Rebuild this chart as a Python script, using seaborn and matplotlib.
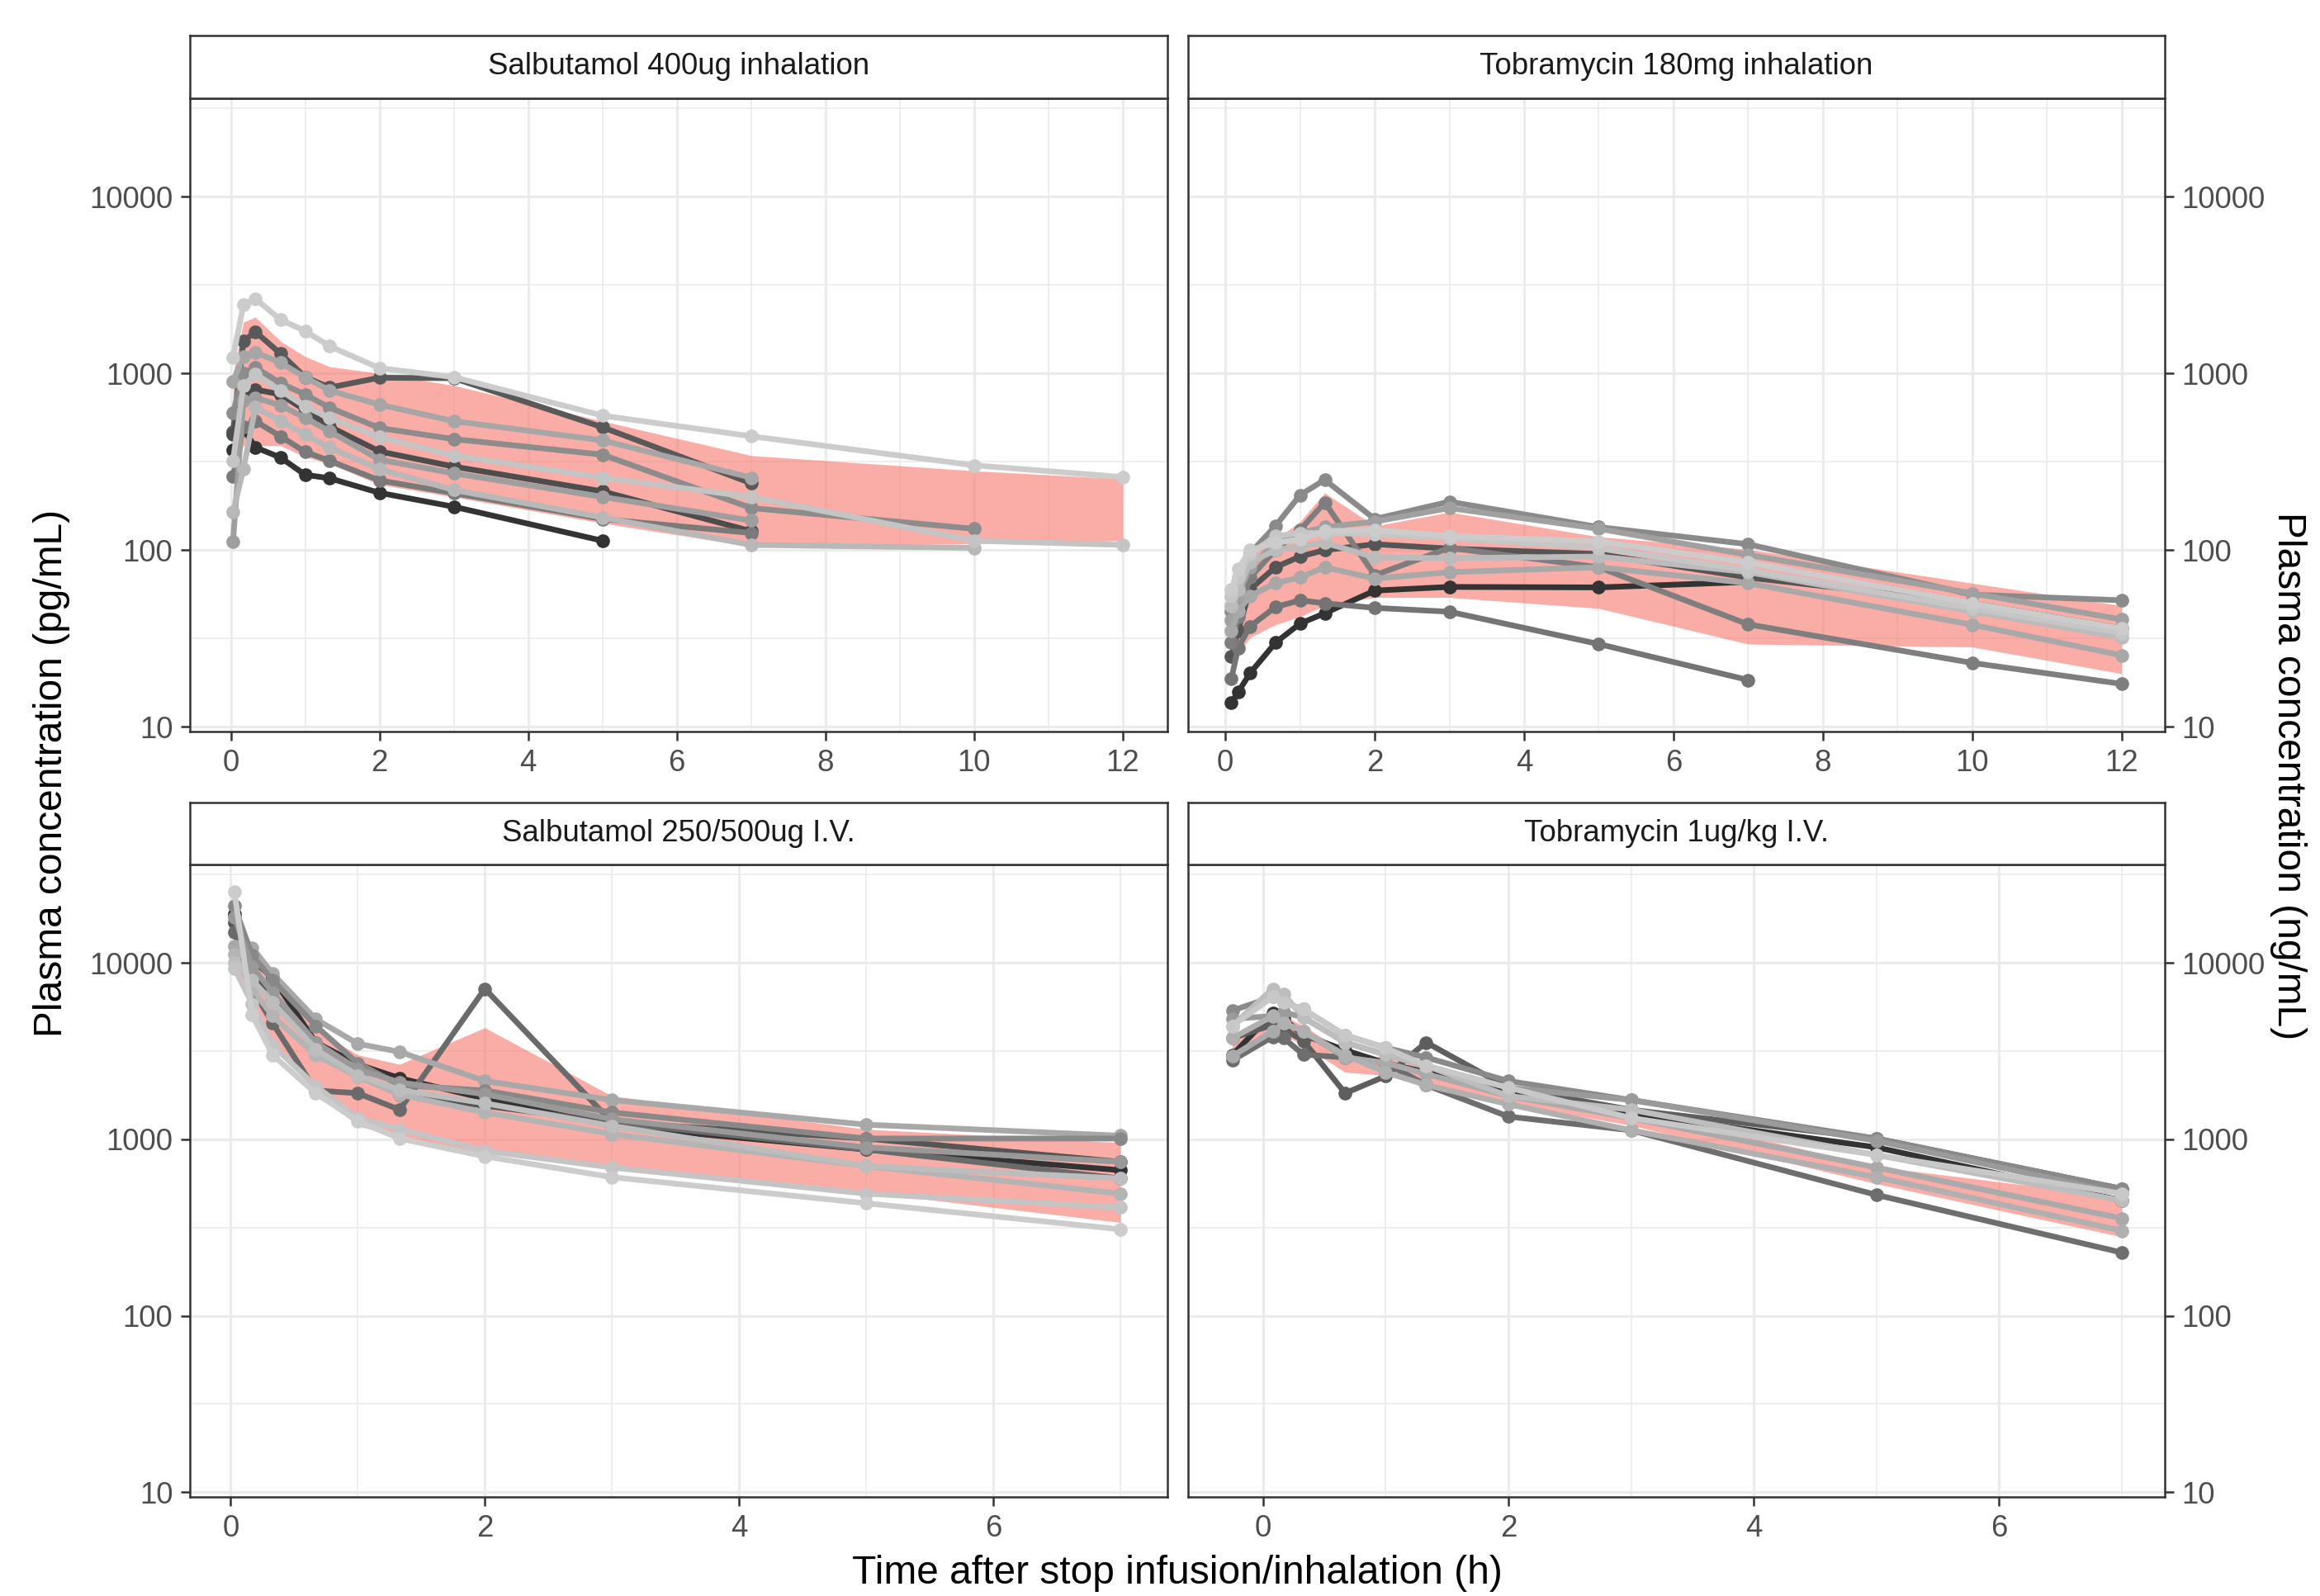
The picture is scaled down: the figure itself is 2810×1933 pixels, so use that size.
import numpy as np
import pandas as pd
import matplotlib
matplotlib.use("Agg")
import matplotlib.pyplot as plt
from matplotlib.ticker import FixedLocator, NullFormatter
import seaborn as sns

plt.rcParams['font.family'] = ['Liberation Sans', 'DejaVu Sans']

# ---------------- data ----------------
panel_titles = ["Salbutamol 400ug inhalation", "Tobramycin 180mg inhalation",
                "Salbutamol 250/500ug I.V.", "Tobramycin 1ug/kg I.V."]

# Salbutamol inhalation
t_si = [0.03, 0.17, 0.33, 0.67, 1, 1.33, 2, 3, 5, 7, 10, 12]
si_subjects = {
    "s01": [370, 485, 382, 334, 267, 255, 211, 176, 113],
    "s02": [465, 1520, 1722, 1293, 953, 832, 946, 940, 496, 239],
    "s03": [450, 780, 811, 760, 620, 500, 362, 297, 215, 128],
    "s04": [260, 500, 537, 440, 360, 320, 248, 210, 150, 125],
    "s05": [600, 1000, 1081, 880, 760, 640, 491, 425, 347, 173, 132],
    "s06": [112, 700, 728, 660, 560, 470, 325, 272, 200, 147],
    "s07": [900, 1250, 1316, 1150, 950, 800, 666, 537, 418, 257],
    "s08": [164, 287, 642, 540, 450, 380, 287, 219, 153, 107, 103],
    "s09": [320, 850, 988, 800, 650, 560, 436, 343, 257, 200, 113, 107],
    "s10": [1234, 2442, 2650, 2011, 1740, 1425, 1072, 953, 577, 441, 302, 259],
}
si_colors = ["#333333", "#595959", "#4d4d4d", "#7a7a7a", "#8c8c8c",
             "#9e9e9e", "#a6a6a6", "#b8b8b8", "#c4c4c4", "#cccccc"]
rib_si_lo = [300, 390, 390, 390, 337, 308, 235, 200, 142, 105, 109, 113]
rib_si_hi = [1000, 1954, 2083, 1520, 1247, 1092, 1001, 855, 537, 343, 281, 253]

# Tobramycin inhalation
t_ti = [0.08, 0.17, 0.33, 0.67, 1, 1.33, 2, 3, 5, 7, 10, 12]
ti_subjects = {
    "s01": [13.7, 15.7, 20.1, 29.9, 38.4, 43.9, 59, 61.9, 61.5, 66],
    "s02": [25, 35, 60, 80, 92, 100, 108, 102, 95, 70, 50, 36],
    "s03": [18.7, 28, 37, 47.6, 52, 50, 47.1, 44.8, 29.4, 18.4],
    "s04": [45, 60, 95.9, 137, 205, 250, 150, 188, 135, 108, 56, 52],
    "s05": [30, 42, 70, 100, 130, 186, 72, 103, 80, 38, 23, 17.5],
    "s06": [40, 55, 80, 110, 125, 135, 145, 173, 132, 94, 57, 40.5],
    "s07": [35, 45, 55, 65, 70, 80, 69, 75, 80, 65, 37.8, 25.4],
    "s08": [48, 60, 85, 100, 105, 110, 91, 90, 92, 75, 45, 32],
    "s09": [55, 70, 95, 120, 125, 125, 123, 117, 103, 77, 46.8, 34],
    "s10": [60, 78, 100, 110, 115, 128, 130, 120, 112, 85, 50, 36],
}
ti_colors = ["#333333", "#555555", "#747474", "#8a8a8a", "#7e7e7e",
             "#a0a0a0", "#a8a8a8", "#bbbbbb", "#c6c6c6", "#cccccc"]
rib_ti_lo = [22, 26, 32, 37.8, 42, 48.5, 54, 54, 46.8, 29.4, 28.3, 20]
rib_ti_hi = [40, 60, 92, 115, 145, 211, 137, 164, 119, 101, 65, 48.5]

# Salbutamol I.V.
t_sv = [0.03, 0.17, 0.33, 0.67, 1, 1.33, 2, 3, 5, 7]
sv_subjects = {
    "s01": [19000, 10400, 8240, 3540, 2660, 2220, 1700, 1190, 875, 668],
    "s02": [17000, 8690, 6290, 3240, 2345, 1790, 1550, 1250, 1010, 745],
    "s03": [15000, 7130, 4560, 1890, 1825, 1470, 7130, 1250, 875, 600],
    "s04": [12400, 12200, 8690, 4800, 3480, 3130, 2140, 1670, 1210, 1048],
    "s05": [21000, 11000, 8000, 4390, 2700, 2030, 1890, 1420, 1010, 1010],
    "s06": [18200, 9500, 6800, 3540, 2500, 2100, 1800, 1300, 900, 745],
    "s07": [11200, 7130, 5000, 3000, 2270, 1790, 1420, 1070, 705, 492],
    "s08": [10000, 8000, 6000, 3240, 2300, 1900, 1600, 1190, 705, 600],
    "s09": [9300, 5860, 3420, 2000, 1320, 1140, 859, 692, 492, 411],
    "s10": [25200, 5070, 3010, 1825, 1270, 1010, 800, 610, 434, 309],
}
sv_colors = ["#333333", "#555555", "#6a6a6a", "#a8a8a8", "#888888",
             "#999999", "#b4b4b4", "#bdbdbd", "#c4c4c4", "#cccccc"]
rib_sv_lo = [9000, 6000, 3500, 1890, 1190, 1030, 828, 718, 501, 338]
rib_sv_hi = [18000, 12000, 8000, 4170, 3010, 2660, 4290, 1760, 1140, 957]

# Tobramycin I.V.
t_tv = [-0.25, 0.08, 0.17, 0.33, 0.67, 1, 1.33, 2, 3, 5, 7]
tv_subjects = {
    "s01": [3000, 5200, 4800, 3900, 3200, 2700, 2400, 1900, 1400, 900, 450],
    "s02": [3740, 4460, 4220, 3610, 1825, 2280, 3540, 1960, 1470, 1010, 524],
    "s03": [2800, 3810, 3740, 3020, 2910, 2710, 2030, 1345, 1125, 484, 228],
    "s04": [5360, 6410, 5970, 5450, 3880, 3300, 2910, 2140, 1670, 1010, 524],
    "s05": [4810, 5000, 5260, 4900, 3540, 3020, 2610, 1960, 1670, 980, 492],
    "s06": [2960, 4090, 4560, 4090, 2910, 2710, 2345, 1760, 1320, 692, 356],
    "s07": [3740, 4990, 4560, 4090, 3000, 2400, 2030, 1580, 1125, 610, 303],
    "s08": [4390, 7130, 6650, 4900, 3540, 3020, 2610, 1760, 1470, 815, 450],
    "s09": [4390, 6410, 5970, 5450, 3880, 3300, 2610, 1960, 1320, 815, 492],
}
tv_colors = ["#333333", "#5e5e5e", "#6e6e6e", "#8a8a8a", "#9a9a9a",
             "#aaaaaa", "#b0b0b0", "#bdbdbd", "#c8c8c8"]
rib_tv_lo = [2900, 3800, 3900, 3400, 2400, 2300, 2000, 1600, 1200, 560, 280]
rib_tv_hi = [3700, 5000, 5000, 4400, 3100, 2900, 2600, 1900, 1500, 700, 470]

y_ticks = [10, 100, 1000, 10000]
y_labels = ["10", "100", "1000", "10000"]
x_ticks_top = [0, 2, 4, 6, 8, 10, 12]
x_ticks_bottom = [0, 2, 4, 6]

# ---------------- figure ----------------
W, H = 2811, 1933
fig = plt.figure(figsize=(W / 300, H / 300), dpi=300)

def fx(px):
    return px / W

def fy(py):
    return 1 - py / H

col_x = [(230, 1414), (1439, 2622)]
row_y = [(43, 119, 886), (972, 1047, 1813)]  # strip top, panel top, panel bottom

panels = [
    (t_si, si_subjects, si_colors, rib_si_lo, rib_si_hi, (-0.55, 12.6), x_ticks_top, range(1, 13, 2)),
    (t_ti, ti_subjects, ti_colors, rib_ti_lo, rib_ti_hi, (-0.50, 12.58), x_ticks_top, range(1, 13, 2)),
    (t_sv, sv_subjects, sv_colors, rib_sv_lo, rib_sv_hi, (-0.32, 7.37), x_ticks_bottom, [1, 3, 5, 7]),
    (t_tv, tv_subjects, tv_colors, rib_tv_lo, rib_tv_hi, (-0.61, 7.35), x_ticks_bottom, [1, 3, 5, 7]),
]

edge = "#333333"
for i, (tt, subj, cols, rlo, rhi, xl, xt, xminor) in enumerate(panels):
    r, c = divmod(i, 2)
    x0, x1 = col_x[c]
    st, pt, pb = row_y[r]
    ax = fig.add_axes([fx(x0), fy(pb), fx(x1 - x0), (pb - pt) / H])
    sax = fig.add_axes([fx(x0), fy(pt), fx(x1 - x0), (pt - st) / H])

    # ribbon
    ax.fill_between(tt, rlo, rhi, color="#F8766D", alpha=0.6, linewidth=0, zorder=2)

    rows = []
    for k, v in subj.items():
        for t, y in zip(tt[:len(v)], v):
            rows.append((k, t, y))
    df = pd.DataFrame(rows, columns=["subject", "time", "conc"])
    pal = dict(zip(subj.keys(), cols))
    sns.lineplot(data=df, x="time", y="conc", hue="subject", palette=pal,
                 marker="o", markersize=4.0, markeredgewidth=0, linewidth=1.65,
                 estimator=None, legend=False, ax=ax, zorder=3)

    ax.set_yscale("log")
    ax.set_ylim(9.4, 36100)
    ax.set_xlim(*xl)
    ax.set_xlabel("")
    ax.set_ylabel("")
    ax.yaxis.set_major_locator(FixedLocator(y_ticks))
    ax.set_yticklabels(y_labels)
    ax.yaxis.set_minor_locator(FixedLocator([10 ** 0.5 * v for v in [10, 100, 1000, 10000]]))
    ax.yaxis.set_minor_formatter(NullFormatter())
    ax.xaxis.set_major_locator(FixedLocator(xt))
    ax.set_xticklabels([str(v) for v in xt])
    ax.xaxis.set_minor_locator(FixedLocator(list(xminor)))
    ax.grid(which="major", color="#EBEBEB", linewidth=0.75)
    ax.grid(which="minor", color="#EBEBEB", linewidth=0.4)
    ax.set_axisbelow(True)
    for s in ax.spines.values():
        s.set_color(edge)
        s.set_linewidth(0.6)
    ax.tick_params(which="major", length=2.75, width=0.6, color=edge,
                   labelcolor="#4D4D4D", labelsize=8.8, pad=2.2)
    ax.tick_params(which="minor", length=0)
    if c == 1:
        ax.yaxis.tick_right()
        ax.tick_params(axis="y", which="both", left=False, right=True)
        ax.tick_params(axis="y", which="minor", length=0)

    sax.set_xticks([])
    sax.set_yticks([])
    sax.set_facecolor("white")
    for s in sax.spines.values():
        s.set_color(edge)
        s.set_linewidth(0.6)
    sax.text(0.5, 0.5, panel_titles[i], ha="center", va="center",
             fontsize=8.8, color="#1A1A1A", transform=sax.transAxes)

fig.text(fx(63), fy(936), "Plasma concentration (pg/mL)", rotation=90,
         ha="center", va="center", fontsize=11.5, color="black")
fig.text(fx(2772), fy(940), "Plasma concentration (ng/mL)", rotation=270,
         ha="center", va="center", fontsize=11.5, color="black")
fig.text(fx(1426), fy(1906), "Time after stop infusion/inhalation (h)",
         ha="center", va="center", fontsize=11.5, color="black")

fig.savefig("out.png", dpi=300, facecolor="white")
